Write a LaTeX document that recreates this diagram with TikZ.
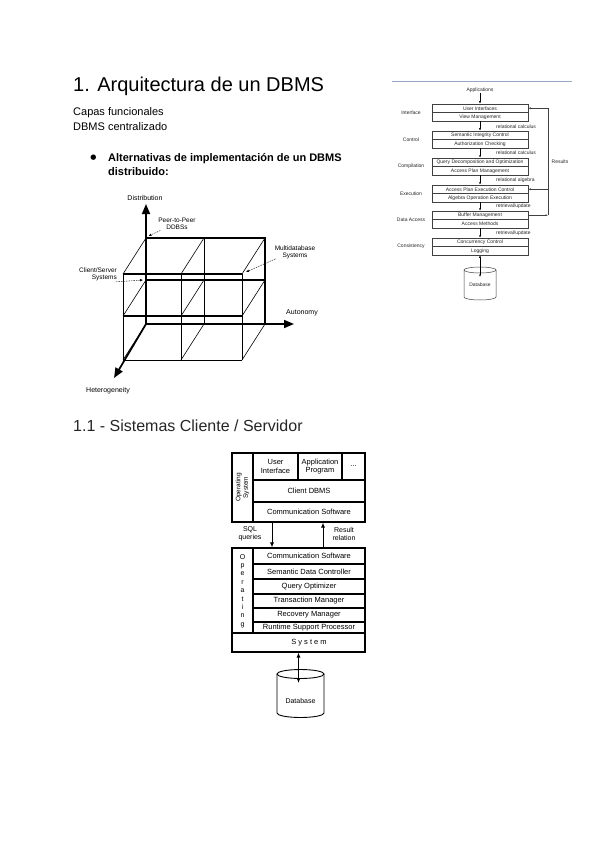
\documentclass[tikz,border=0pt]{standalone}
\usepackage{fontspec}
\setmainfont{Liberation Sans}
\newfontfamily\djv{DejaVu Sans}
\usetikzlibrary{arrows.meta}
\tikzset{
  hdA/.style={font=\fontsize{20}{24}\selectfont, inner sep=0pt, anchor=base west},
  hdB/.style={font=\fontsize{16}{19}\selectfont, inner sep=0pt, anchor=base west, text=black!85},
  body/.style={font=\fontsize{11}{13}\selectfont, inner sep=0pt, anchor=base west},
  bodyb/.style={font=\fontsize{11}{13}\selectfont\bfseries, inner sep=0pt, anchor=base west},
  cubethick/.style={line width=1.1pt},
  cubethin/.style={line width=0.6pt},
  axis/.style={line width=1.7pt, -{Triangle[length=10pt,width=8pt]}},
  annot/.style={line width=0.4pt, dash pattern=on 1.5pt off 1pt, -{Latex[length=3pt,width=2.5pt]}},
  clab/.style={font=\fontsize{6.5}{7.2}\selectfont, align=center, inner sep=0pt},
  alab/.style={font=\fontsize{7}{8}\selectfont, inner sep=0pt},
  lay/.style={draw=black!75, line width=0.5pt, minimum width=96pt, minimum height=8.5pt, inner sep=0pt, font=\fontsize{5}{6}\selectfont, text=black!85},
  small/.style={font=\fontsize{5}{6}\selectfont, inner sep=0pt, text=black!85},
  rarr/.style={line width=0.5pt, -{Latex[length=2.5pt,width=2pt]}},
  cell/.style={draw, line width=1.1pt, inner sep=0pt, align=center, font=\fontsize{7.5}{8.5}\selectfont},
  cstext/.style={inner sep=0pt, align=center, font=\fontsize{7}{8.4}\selectfont},
  csarr/.style={line width=0.9pt, -{Latex[length=5pt,width=4pt]}},
  dbarr/.style={line width=0.9pt, {Latex[length=5pt,width=4pt]}-{Latex[length=5pt,width=4pt]}},
}
\begin{document}
\begin{tikzpicture}[x=1pt,y=-1pt]
\useasboundingbox[fill=white] (0,0) rectangle (600,848);

% ---------------- text ----------------
\node[hdA] (title) at (73,92) {1. Arquitectura de un DBMS};
\node[body] (capas) at (73,116) {Capas funcionales};
\node[body] (dbmsc) at (73,131) {DBMS centralizado};
\node[inner sep=0pt, font=\djv\fontsize{7}{8}\selectfont] (bul) at (93.5,157.5) {●};
\node[bodyb] (alt1) at (108,161) {Alternativas de implementación de un DBMS};
\node[bodyb] (alt2) at (108,175) {distribuido:};
\node[hdB] (sec) at (73,431) {1.1 - Sistemas Cliente / Servidor};

% ---------------- cube ----------------
\coordinate (O) at (146,324);
\coordinate (Dtip) at (146,204);
\coordinate (Atip) at (294,324);
\coordinate (Htip) at (114,378);
% back face
\draw[cubethick] (146,238) -- (265,238) -- (265,324);
\draw[cubethick] (146,280) -- (265,280);
\draw[cubethin] (204,238) -- (204,324);
% front face
\draw[cubethick] (123,274) -- (242,274);
\draw[cubethick] (123,316) -- (242,316);
\draw[cubethin] (123,360) -- (242,360);
\draw[cubethin] (123,274) -- (123,360);
\draw[cubethin] (181,274) -- (181,360);
\draw[cubethin] (242,274) -- (242,360);
% depth edges
\foreach \bx in {146,204,265}{
  \foreach \by in {238,280,324}{
    \draw[cubethin] (\bx,\by) -- ++(-23,36);
  }
}
% axes
\draw[axis] (O) -- (Dtip);
\draw[axis] (O) -- (Atip);
\draw[axis] (O) -- (Htip);
\node[alab] (ldist) at (145,198) {Distribution};
\node[alab] (lauto) at (302,313) {Autonomy};
\node[alab] (lhet) at (108,391) {Heterogeneity};
% annotations
\node[clab] (peer) at (177,223.5) {Peer-to-Peer\\DDBSs};
\node[clab] (multi) at (295,252) {Multidatabase\\Systems};
\node[clab, align=right, anchor=east] (cli) at (117,274) {Client/Server\\Systems};
\coordinate (cPeer) at (148.5,236);
\coordinate (cMulti) at (246,272);
\coordinate (cCli) at (143,280);
\draw[annot] ([shift={(2pt,-1pt)}]peer.south west) -- (cPeer);
\draw[annot] ([shift={(1pt,0pt)}]multi.south west) -- (cMulti);
\draw[annot] ([shift={(-1pt,-1pt)}]cli.south east) -- (cCli);

% ---------------- functional layers ----------------
\draw[draw={rgb,1:red,0.6;green,0.66;blue,0.76}, line width=0.7pt] (392,81) -- (572,81);
\node[small] (apps) at (480,90) {Applications};
\node[lay] (b1a) at (480,108.25) {User Interfaces};
\node[lay] (b1b) at (480,116.75) {View Management};
\node[lay] (b2a) at (480,135.25) {Semantic Integrity Control};
\node[lay] (b2b) at (480,143.75) {Authorization Checking};
\node[lay] (b3a) at (480,162.25) {Query Decomposition and Optimization};
\node[lay] (b3b) at (480,170.75) {Access Plan Management};
\node[lay] (b4a) at (480,189.25) {Access Plan Execution Control};
\node[lay] (b4b) at (480,197.75) {Algebra Operation Execution};
\node[lay] (b5a) at (480,215.25) {Buffer Management};
\node[lay] (b5b) at (480,223.75) {Access Methods};
\node[lay] (b6a) at (480,242.25) {Concurrency Control};
\node[lay] (b6b) at (480,250.75) {Logging};

\node[small] (lInt) at (411,112.5) {Interface};
\node[small] (lCon) at (411,139.5) {Control};
\node[small] (lCom) at (411,166.5) {Compilation};
\node[small] (lExe) at (411,193.5) {Execution};
\node[small] (lDat) at (411,219.5) {Data Access};
\node[small] (lCns) at (411,246.5) {Consistency};

\node[small, anchor=west] (g1) at (496,126.5) {relational calculus};
\node[small, anchor=west] (g2) at (496,153) {relational calculus};
\node[small, anchor=west] (g3) at (496,180) {relational algebra};
\node[small, anchor=west] (g4) at (496,206.5) {retrieval/update};
\node[small, anchor=west] (g5) at (496,233) {retrieval/update};

\draw[rarr] (apps.south) -- (b1a.north);
\draw[rarr] (b1b.south) -- (b2a.north);
\draw[rarr] (b2b.south) -- (b3a.north);
\draw[rarr] (b3b.south) -- (b4a.north);
\draw[rarr] (b4b.south) -- (b5a.north);
\draw[rarr] (b5b.south) -- (b6a.north);

% results
\coordinate (rTop) at (548,108.25);
\coordinate (rMid) at (548,189.25);
\coordinate (rBot) at (548,215.25);
\node[small] (res) at (560,162) {Results};
\draw[line width=0.5pt, black!75] (rBot) -- (rTop);
\draw[rarr, black!75] (b5a.east) -- (rBot);
\draw[rarr, black!75] (rMid) -- (b4a.east);
\draw[rarr, black!75] (rTop) -- (b1a.east);

% database 1
\draw[line width=0.5pt, black!75] (464,270) -- (464,297) arc[start angle=180, end angle=0, x radius=16, y radius=3] -- (496,270);
\draw[line width=0.5pt, black!75] (480,270) ellipse[x radius=16, y radius=3];
\node[small] (db1) at (480,285) {Database};
\coordinate (db1top) at (480,277);
\draw[line width=0.5pt, {Latex[length=2.5pt,width=2pt]}-{Latex[length=2.5pt,width=2pt]}] (b6b.south) -- (db1top);

% ---------------- client / server ----------------
\node[cell, minimum width=21pt, minimum height=69pt] (osA) at (242.5,487.5) {};
\node[cstext, rotate=90, font=\fontsize{6.5}{7.5}\selectfont] (osAt) at (242.5,487.5) {Operating\\System};
\node[cell, minimum width=45pt, minimum height=27pt] (ui) at (275.5,466.5) {User\\Interface};
\node[cell, minimum width=44pt, minimum height=27pt] (ap) at (320,466.5) {Application\\Program};
\node[cell, minimum width=23pt, minimum height=27pt] (dots) at (353.5,466.5) {...};
\node[cell, minimum width=112pt, minimum height=22pt] (cdbms) at (309,491) {Client DBMS};
\node[cell, minimum width=112pt, minimum height=20pt] (csA) at (309,512) {Communication Software};

\node[cstext] (sql) at (250,534) {SQL\\queries};
\node[cstext] (rr) at (344,534) {Result\\relation};

\node[cell, minimum width=21pt, minimum height=85pt] (osB) at (242.5,590.5) {};
\node[cstext, font=\fontsize{7}{8.4}\selectfont] (osBt) at (242.5,591) {O\\p\\e\\r\\a\\t\\i\\n\\g};
\node[cell, minimum width=112pt, minimum height=16pt] (csB) at (309,556) {Communication Software};
\node[cell, minimum width=112pt, minimum height=15pt] (sdc) at (309,571.5) {Semantic Data Controller};
\node[cell, minimum width=112pt, minimum height=15pt] (qo) at (309,586.5) {Query Optimizer};
\node[cell, minimum width=112pt, minimum height=14pt] (tm) at (309,601) {Transaction Manager};
\node[cell, minimum width=112pt, minimum height=14pt] (rm) at (309,615) {Recovery Manager};
\node[cell, minimum width=112pt, minimum height=11pt] (rsp) at (309,627.5) {Runtime Support Processor};
\node[cell, minimum width=133pt, minimum height=19pt] (sys) at (298.5,642.5) {};
\node[cstext, font=\fontsize{7.5}{8.5}\selectfont] (syst) at (309,643) {S y s t e m};

\coordinate (xSql) at (272,0);
\coordinate (xRes) at (323,0);
\draw[csarr] (csA.south -| xSql) -- (csB.north -| xSql);
\draw[csarr] (csB.north -| xRes) -- (csA.south -| xRes);

% database 2
\draw[line width=0.9pt] (277,674) -- (277,713) arc[start angle=180, end angle=0, x radius=23.5, y radius=4.5] -- (324,674);
\draw[line width=0.9pt] (300.5,674) ellipse[x radius=23.5, y radius=4.5];
\node[cstext] (db2) at (300.5,701) {Database};
\coordinate (db2top) at (298.5,683);
\draw[dbarr] (sys.south) -- (db2top);
\end{tikzpicture}
\end{document}
